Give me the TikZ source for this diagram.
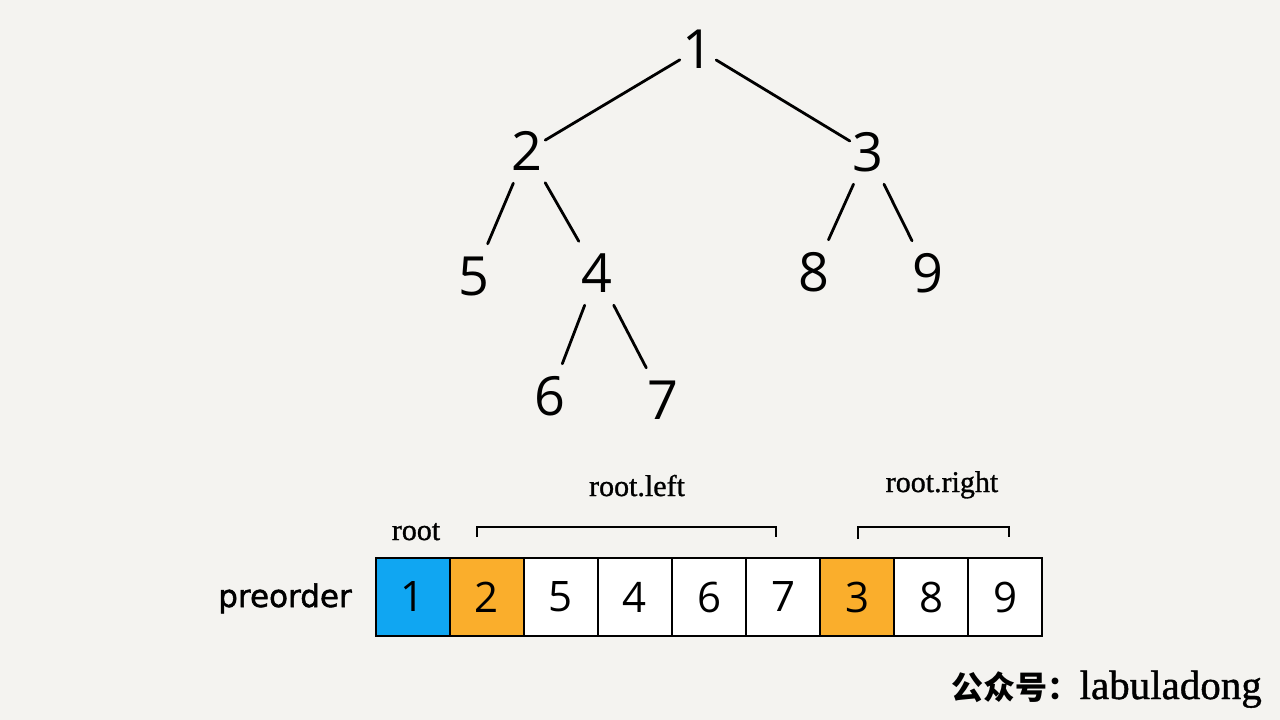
\documentclass[tikz,border=0pt]{standalone}
\usepackage{fontspec}
\setmainfont{Liberation Serif}
\newfontfamily\lblfont[FakeBold=1]{Liberation Serif}
\newfontfamily\digitfont{Open Sans}
\newfontfamily\prefont[FakeBold=1.6]{DejaVu Sans}
\newfontfamily\cjk{Noto Sans CJK SC}
\definecolor{bgpaper}{RGB}{244,243,240}
\definecolor{rootblue}{RGB}{16,166,242}
\definecolor{suborange}{RGB}{250,174,44}
\begin{document}
\begin{tikzpicture}[x=1pt,y=-1pt,
  treenum/.style={rectangle, inner sep=0pt, minimum width=36pt, minimum height=64pt,
    font=\digitfont\fontsize{54}{60}\selectfont},
  edge/.style={line width=2.8pt, line cap=round},
  cell/.style={draw, line width=2.4pt, minimum width=74pt, minimum height=78pt, inner sep=0pt,
    font=\digitfont\fontsize{42}{48}\selectfont},
  lbl/.style={font=\lblfont\fontsize{30}{34}\selectfont, anchor=base, inner sep=0pt},
  brk/.style={line width=2.2pt}]
\fill[bgpaper] (0,0) rectangle (1280,720);
\useasboundingbox (0,0) rectangle (1280,720);

% tree
\node[treenum] (n1) at (698,49) {1};
\node[treenum] (n2) at (527,151) {2};
\node[treenum] (n3) at (868,152) {3};
\node[treenum] (n5) at (474,276) {5};
\node[treenum] (n4) at (597,273) {4};
\node[treenum] (n8) at (814,272) {8};
\node[treenum] (n9) at (928,273) {9};
\node[treenum] (n6) at (550,396) {6};
\node[treenum] (n7) at (663,400) {7};

\draw[edge] (n1) -- (n2);
\draw[edge] (n1) -- (n3);
\draw[edge] (n2) -- (n5);
\draw[edge] (n2) -- (n4);
\draw[edge] (n3) -- (n8);
\draw[edge] (n3) -- (n9);
\draw[edge] (n4) -- (n6);
\draw[edge] (n4) -- (n7);

% array
\node[cell, fill=rootblue]  (c1) at (413,597) {1};
\node[cell, fill=suborange] (c2) at (487,597) {2};
\node[cell, fill=white]     (c3) at (561,597) {5};
\node[cell, fill=white]     (c4) at (635,597) {4};
\node[cell, fill=white]     (c5) at (709,597) {6};
\node[cell, fill=white]     (c6) at (783,597) {7};
\node[cell, fill=suborange] (c7) at (857,597) {3};
\node[cell, fill=white]     (c8) at (931,597) {8};
\node[cell, fill=white]     (c9) at (1005,597) {9};

\node[font=\prefont\fontsize{31}{36}\selectfont, anchor=base, inner sep=0pt] (pre) at (285,607) {preorder};

% brackets
\coordinate (la) at (477,537);
\coordinate (lb) at (477,527);
\coordinate (lc) at (776,527);
\coordinate (ld) at (776,537);
\draw[brk] (la) -- (lb) -- (lc) -- (ld);
\coordinate (ra) at (858,539);
\coordinate (rb) at (858,527);
\coordinate (rc) at (1009,527);
\coordinate (rd) at (1009,537);
\draw[brk] (ra) -- (rb) -- (rc) -- (rd);

\node[lbl] (rootlbl) at (416,540) {root};
\node[lbl] (leftlbl) at (637,496) {root.left};
\node[lbl] (rightlbl) at (942,492) {root.right};

% watermark
\node[anchor=base east, inner sep=0pt] (wm) at (1262,699)
  {{\cjk\bfseries\fontsize{32}{36}\selectfont 公众号：}{\lblfont\fontsize{41}{46}\selectfont labuladong}};
\end{tikzpicture}
\end{document}
